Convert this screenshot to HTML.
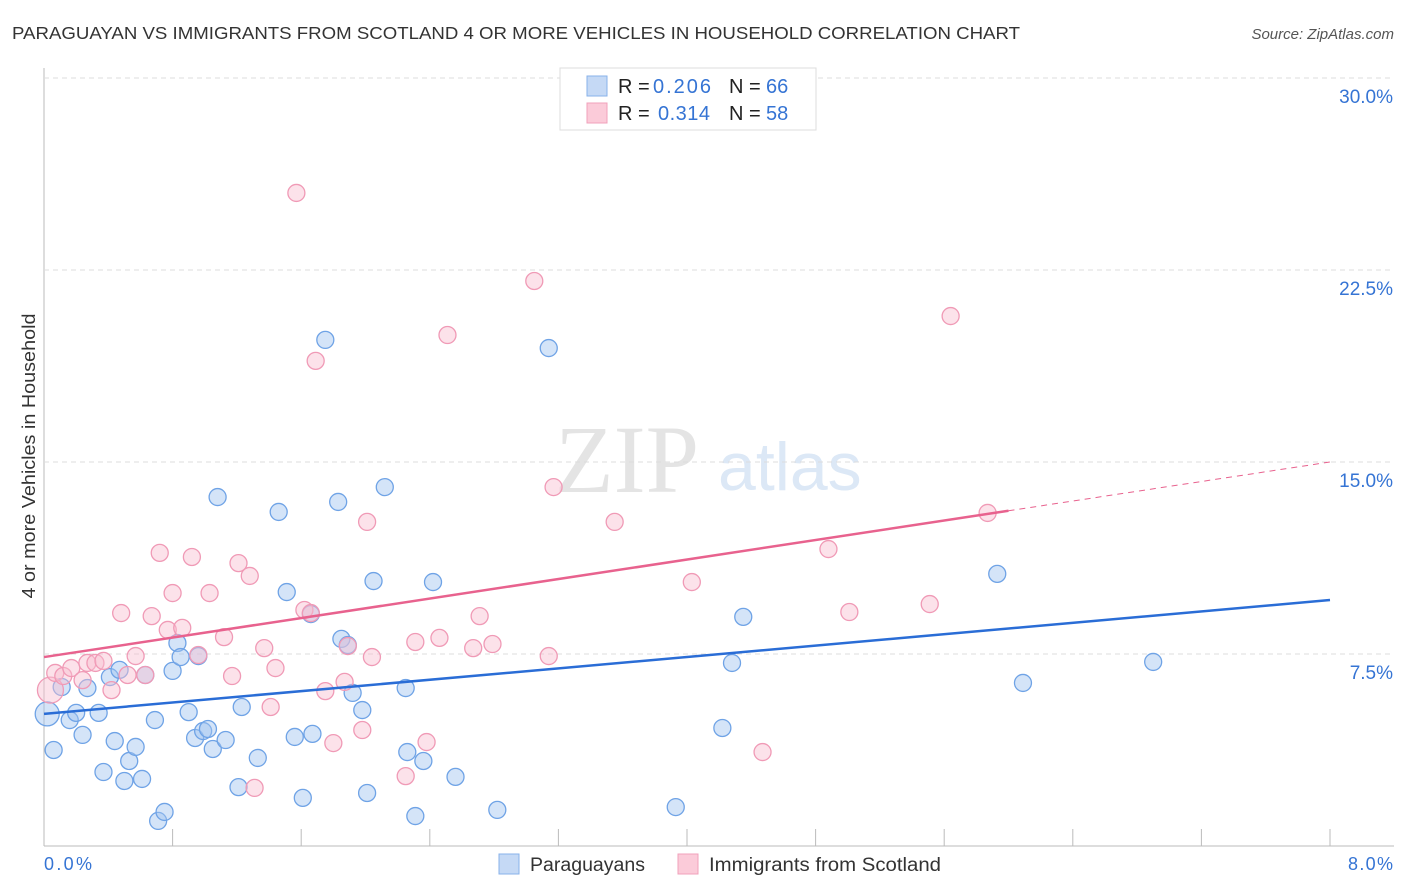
<!DOCTYPE html>
<html><head><meta charset="utf-8"><style>
body{margin:0;background:#fff;font-family:"Liberation Sans",sans-serif;}
svg{display:block}
</style></head><body>
<svg id="chart" width="1406" height="892">
<text x="12" y="39" font-size="17.5" fill="#333" textLength="1008" lengthAdjust="spacingAndGlyphs">PARAGUAYAN VS IMMIGRANTS FROM SCOTLAND 4 OR MORE VEHICLES IN HOUSEHOLD CORRELATION CHART</text>
<text x="1394" y="39" font-size="15" fill="#555" font-style="italic" text-anchor="end">Source: ZipAtlas.com</text>
<text x="35" y="456" font-size="18" fill="#333" text-anchor="middle" textLength="285" lengthAdjust="spacingAndGlyphs" transform="rotate(-90 35 456)">4 or more Vehicles in Household</text>
<g><text x="555" y="492" font-family="Liberation Serif,serif" font-size="96" fill="#e4e4e4">ZIP</text><text x="718" y="490" font-size="68" fill="#dce8f6">atlas</text></g>
<g id="grid"></g><g id="marks"></g><g id="lines"></g>
<g>
<rect x="560" y="68" width="256" height="62" fill="#fff" stroke="#ddd"/>
<rect x="587" y="76" width="20" height="20" fill="#c5d9f5" stroke="#88b2ea"/>
<rect x="587" y="103" width="20" height="20" fill="#fbcbd9" stroke="#f0a0bb"/>
<text x="618" y="93" font-size="20" fill="#222">R = <tspan x="653" fill="#3574d4" textLength="58">0.206</tspan><tspan x="729">N = </tspan><tspan x="766" fill="#3574d4">66</tspan></text>
<text x="618" y="120" font-size="20" fill="#222">R = <tspan x="658" fill="#3574d4" textLength="52">0.314</tspan><tspan x="729">N = </tspan><tspan x="766" fill="#3574d4">58</tspan></text>
</g>
<g>
<rect x="499" y="854" width="20" height="20" fill="#c5d9f5" stroke="#88b2ea"/>
<text x="530" y="871" font-size="19" fill="#333" textLength="115" lengthAdjust="spacingAndGlyphs">Paraguayans</text>
<rect x="678" y="854" width="20" height="20" fill="#fbcbd9" stroke="#f0a0bb"/>
<text x="709" y="871" font-size="19" fill="#333" textLength="232" lengthAdjust="spacingAndGlyphs">Immigrants from Scotland</text>
</g>
<text x="44" y="870" font-size="18" fill="#3574d4" textLength="48">0.0%</text>
<text x="1393" y="870" font-size="18" fill="#3574d4" text-anchor="end" textLength="45">8.0%</text>
</svg>
<script>
const blueX=[0.02,0.06,0.11,0.16,0.20,0.24,0.27,0.34,0.37,0.41,0.44,0.47,0.50,0.53,0.57,0.61,0.63,0.69,0.71,0.75,0.80,0.83,0.85,0.90,0.94,0.96,0.99,1.02,1.05,1.08,1.13,1.21,1.23,1.33,1.46,1.51,1.56,1.61,1.66,1.67,1.75,1.83,1.85,1.89,1.92,1.98,2.01,2.05,2.12,2.25,2.26,2.31,2.36,2.42,2.56,2.82,3.14,3.93,4.22,4.28,4.35,5.93,6.09,6.90];
const blueY=[5.16,3.75,6.21,4.92,5.20,4.34,6.17,5.20,2.89,6.60,4.10,6.88,2.54,3.32,3.87,2.62,6.68,4.92,0.98,1.33,6.84,7.93,7.38,5.23,4.22,7.42,4.49,4.57,3.79,13.63,4.14,2.30,5.43,3.44,13.05,9.92,4.26,1.88,9.06,4.38,19.77,13.44,8.09,7.85,5.98,5.31,2.07,10.35,14.02,6.17,3.67,1.17,3.32,10.31,2.70,1.41,19.45,1.52,4.61,7.15,8.95,10.63,6.37,7.19];
const pinkX=[0.04,0.07,0.12,0.17,0.24,0.27,0.32,0.37,0.42,0.48,0.52,0.57,0.63,0.67,0.72,0.77,0.80,0.86,0.92,0.96,1.03,1.12,1.17,1.21,1.28,1.31,1.37,1.41,1.44,1.57,1.62,1.66,1.69,1.75,1.80,1.87,1.89,1.98,2.01,2.04,2.25,2.31,2.38,2.46,2.51,2.67,2.71,2.79,3.05,3.14,3.17,3.55,4.03,4.47,4.88,5.01,5.51,5.64,5.87];
const pinkY=[6.09,6.76,6.64,6.95,6.48,7.15,7.15,7.23,6.09,9.10,6.68,7.42,6.68,8.98,11.45,8.44,9.88,8.52,11.29,7.46,9.88,8.16,6.64,11.05,10.55,2.27,7.73,5.43,6.95,25.51,9.22,9.10,18.95,6.05,4.02,6.41,7.81,4.53,12.66,7.38,2.73,7.97,4.06,8.13,19.96,7.73,8.98,7.89,22.07,7.42,14.02,12.66,10.31,3.67,11.60,9.14,9.45,20.70,13.01];
const yTicks=[7.5,15,22.5,30];
const yTickLabels=["7.5%","15.0%","22.5%","30.0%"];
const xTicks=[0,0.8,1.6,2.4,3.2,4.0,4.8,5.6,6.4,7.2,8.0];
const blueTrend=[5.16,0.556];
const pinkTrend=[7.38,0.9525,6.0];
const NS="http://www.w3.org/2000/svg";
const sx=v=>44+v*160.75, sy=v=>846-v*25.6;
function mk(p,t,a){const e=document.createElementNS(NS,t);for(const k in a)e.setAttribute(k,a[k]);p.appendChild(e);return e;}
const grid=document.getElementById('grid'),marks=document.getElementById('marks'),lines=document.getElementById('lines'),svg=document.getElementById('chart');
mk(grid,'line',{x1:44,y1:68,x2:44,y2:846,stroke:'#bbb'});
mk(grid,'line',{x1:44,y1:846,x2:1394,y2:846,stroke:'#bbb'});
yTicks.forEach((v,i)=>{
 const g=mk(grid,'line',{x1:44,y1:sy(v),x2:1394,y2:sy(v),stroke:'#ddd','stroke-dasharray':'5,4'});
 
 
 const t=mk(svg,'text',{x:1393,y:sy(v)+25,'font-size':19,fill:'#3574d4','text-anchor':'end'});
 t.textContent=yTickLabels[i];
 
 
});
xTicks.forEach(v=>{
 const l=mk(grid,'line',{x1:sx(v),y1:829,x2:sx(v),y2:846,stroke:'#bbb'});
 
 
});
blueX.forEach((x,i)=>{
 const c=mk(marks,'circle',{cx:sx(x),cy:sy(blueY[i]),r:i===0?12:8.5,fill:'rgba(160,196,240,0.45)',stroke:'#6fa3e6','stroke-width':1.3});
 
 
});
pinkX.forEach((x,i)=>{
 const c=mk(marks,'circle',{cx:sx(x),cy:sy(pinkY[i]),r:i===0?13:8.5,fill:'rgba(248,190,208,0.45)',stroke:'#f09ab6','stroke-width':1.3});
 
 
});
const bl=mk(lines,'line',{x1:sx(0),y1:sy(blueTrend[0]),x2:sx(8),y2:sy(blueTrend[0]+8*blueTrend[1]),stroke:'#2a6dd6','stroke-width':2.5});


const pl=mk(lines,'line',{x1:sx(0),y1:sy(pinkTrend[0]),x2:sx(pinkTrend[2]),y2:sy(pinkTrend[0]+pinkTrend[2]*pinkTrend[1]),stroke:'#e8628e','stroke-width':2.5});


const pd=mk(lines,'line',{x1:sx(pinkTrend[2]),y1:sy(pinkTrend[0]+pinkTrend[2]*pinkTrend[1]),x2:sx(8),y2:sy(pinkTrend[0]+8*pinkTrend[1]),stroke:'#e8628e','stroke-width':1,'stroke-dasharray':'6,5'});


</script>
</body></html>
